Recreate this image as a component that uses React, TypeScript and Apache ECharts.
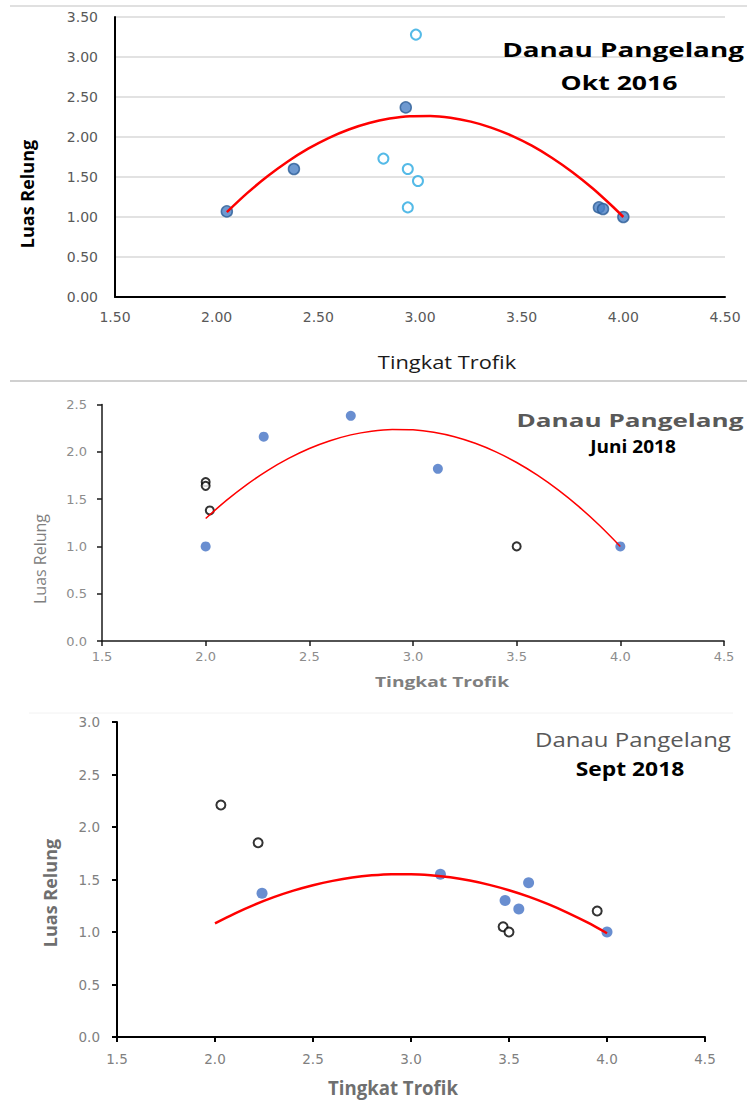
import React, { useEffect, useRef } from "react";
import * as echarts from "echarts";

// ---- Okt 2016 ----
const okt2016Filled = [[2.05, 1.07], [2.38, 1.6], [2.93, 2.37], [3.88, 1.12], [3.9, 1.1], [4.0, 1.0]];
const okt2016Open = [[2.98, 3.28], [2.82, 1.73], [2.94, 1.6], [2.99, 1.45], [2.94, 1.12]];
const okt2016Trend = [
  [2.05, 1.061], [2.15, 1.298], [2.25, 1.509], [2.35, 1.694], [2.45, 1.854], [2.55, 1.987],
  [2.65, 2.094], [2.75, 2.175], [2.85, 2.23], [2.95, 2.26], [3.05, 2.263], [3.15, 2.241],
  [3.25, 2.192], [3.35, 2.118], [3.45, 2.017], [3.55, 1.891], [3.65, 1.738], [3.75, 1.56],
  [3.85, 1.356], [3.95, 1.125], [4.0, 1.0],
];

// ---- Juni 2018 ----
const juni2018Filled = [[2.0, 1.0], [2.28, 2.16], [2.7, 2.38], [3.12, 1.82], [4.0, 1.0]];
const juni2018Open = [[2.0, 1.68], [2.0, 1.64], [2.02, 1.38], [3.5, 1.0]];
const juni2018Trend = [
  [2.0, 1.295], [2.1, 1.486], [2.2, 1.656], [2.3, 1.804], [2.4, 1.93], [2.5, 2.035],
  [2.6, 2.117], [2.7, 2.179], [2.8, 2.218], [2.9, 2.236], [3.0, 2.232], [3.1, 2.206],
  [3.2, 2.159], [3.3, 2.09], [3.4, 1.999], [3.5, 1.887], [3.6, 1.753], [3.7, 1.597],
  [3.8, 1.42], [3.9, 1.221], [4.0, 1.0],
];

// ---- Sept 2018 ----
const sept2018Filled = [[2.24, 1.37], [3.15, 1.55], [3.48, 1.3], [3.55, 1.22], [3.6, 1.47], [4.0, 1.0]];
const sept2018Open = [[2.03, 2.21], [2.22, 1.85], [3.47, 1.05], [3.5, 1.0], [3.95, 1.2]];
const sept2018Trend = [
  [2.0, 1.083], [2.1, 1.176], [2.2, 1.259], [2.3, 1.332], [2.4, 1.394], [2.5, 1.446],
  [2.6, 1.487], [2.7, 1.519], [2.8, 1.54], [2.9, 1.551], [3.0, 1.551], [3.1, 1.541],
  [3.2, 1.521], [3.3, 1.49], [3.4, 1.449], [3.5, 1.398], [3.6, 1.337], [3.7, 1.265],
  [3.8, 1.183], [3.9, 1.091], [4.0, 0.988],
];

const titles = ["Danau Pangelang", "Danau Pangelang", "Danau Pangelang"];
const subtitles = ["Okt 2016", "Juni 2018", "Sept 2018"];
const xName = "Tingkat Trofik";
const yName = "Luas Relung";

const X_MIN = 1.5;
const X_MAX = 4.5;
const X_STEP = 0.5;
const yMaxes = [3.5, 2.5, 3.0];

const LABEL_FONT = "DejaVu Sans";
const TITLE_FONT = "Open Sans";

function buildOption() {
  const grids = [
    { left: 115, top: 17, width: 610, height: 280 },
    { left: 102, top: 404.5, width: 622, height: 236.5 },
    { left: 117, top: 722, width: 588, height: 315 },
  ];

  const xAxes = [
    {
      gridIndex: 0, type: "value", min: X_MIN, max: X_MAX, interval: X_STEP,
      axisLine: { show: true, onZero: false, lineStyle: { color: "#000", width: 2 } },
      axisTick: { show: false },
      splitLine: { show: false },
      axisLabel: { margin: 13, color: "#595959", fontSize: 14, fontFamily: LABEL_FONT, formatter: (v: number) => v.toFixed(2) },
    },
    {
      gridIndex: 1, type: "value", min: X_MIN, max: X_MAX, interval: X_STEP,
      axisLine: { show: true, onZero: false, lineStyle: { color: "#1a1a1a", width: 1.5 } },
      axisTick: { show: true, length: 5, lineStyle: { color: "#1a1a1a", width: 1.5 } },
      splitLine: { show: false },
      axisLabel: { margin: 9, color: "#8c8c8c", fontSize: 13, fontFamily: LABEL_FONT, formatter: (v: number) => v.toFixed(1) },
    },
    {
      gridIndex: 2, type: "value", min: X_MIN, max: X_MAX, interval: X_STEP,
      axisLine: { show: true, onZero: false, lineStyle: { color: "#000", width: 2 } },
      axisTick: { show: true, length: 5, lineStyle: { color: "#000", width: 2 } },
      splitLine: { show: false },
      axisLabel: { margin: 15, color: "#808080", fontSize: 13.5, fontFamily: LABEL_FONT, formatter: (v: number) => v.toFixed(1) },
    },
  ];

  const yAxes = [
    {
      gridIndex: 0, type: "value", min: 0, max: yMaxes[0], interval: 0.5,
      axisLine: { show: true, lineStyle: { color: "#000", width: 2 } },
      axisTick: { show: false },
      splitLine: { show: true, lineStyle: { color: "#d9d9d9", width: 1.5 } },
      axisLabel: { margin: 17, color: "#595959", fontSize: 14, fontFamily: LABEL_FONT, formatter: (v: number) => v.toFixed(2) },
    },
    {
      gridIndex: 1, type: "value", min: 0, max: yMaxes[1], interval: 0.5,
      axisLine: { show: true, lineStyle: { color: "#1a1a1a", width: 1.5 } },
      axisTick: { show: true, length: 5, lineStyle: { color: "#1a1a1a", width: 1.5 } },
      splitLine: { show: false },
      axisLabel: { margin: 15, color: "#8c8c8c", fontSize: 13, fontFamily: LABEL_FONT, formatter: (v: number) => v.toFixed(1) },
    },
    {
      gridIndex: 2, type: "value", min: 0, max: yMaxes[2], interval: 0.5,
      axisLine: { show: true, lineStyle: { color: "#000", width: 2 } },
      axisTick: { show: true, length: 5, lineStyle: { color: "#000", width: 2 } },
      splitLine: { show: false },
      axisLabel: { margin: 17, color: "#808080", fontSize: 13.5, fontFamily: LABEL_FONT, formatter: (v: number) => v.toFixed(1) },
    },
  ];

  const scatter = (idx: number, data: number[][], size: number, itemStyle: any, z = 3) => ({
    type: "scatter", xAxisIndex: idx, yAxisIndex: idx, data, symbol: "circle", symbolSize: size,
    itemStyle, z, silent: true,
  });
  const trend = (idx: number, data: number[][], width: number) => ({
    type: "line", xAxisIndex: idx, yAxisIndex: idx, data, smooth: 0.3, showSymbol: false, symbol: "none",
    lineStyle: { color: "#ff0000", width }, z: 5, silent: true,
  });

  const series = [
    scatter(0, okt2016Open, 10, { color: "#ffffff", borderColor: "#29a9e1", borderWidth: 2 }),
    scatter(0, okt2016Filled, 11, { color: "#4a80c4", borderColor: "#2c5c96", borderWidth: 1.5 }),
    trend(0, okt2016Trend, 2.5),
    scatter(1, juni2018Filled, 10, { color: "#4472c4" }),
    scatter(1, juni2018Open, 8, { color: "#ffffff", borderColor: "#000000", borderWidth: 2 }),
    trend(1, juni2018Trend, 1.5),
    scatter(2, sept2018Filled, 11, { color: "#4472c4" }),
    scatter(2, sept2018Open, 9, { color: "#ffffff", borderColor: "#000000", borderWidth: 2 }),
    trend(2, sept2018Trend, 2.5),
  ];

  const txt = (text: string, x: number, y: number, o: any) => ({
    type: "text", x, y, scaleX: o.scaleX ?? 1, rotation: o.rotation ?? 0, z: 10,
    style: {
      text, fill: o.color ?? "#000", fontSize: o.size, fontWeight: o.weight ?? "normal",
      fontFamily: TITLE_FONT, align: "center", verticalAlign: "middle",
    },
  });

  const graphic = [
    { type: "line", shape: { x1: 10, y1: 6, x2: 747, y2: 6 }, style: { stroke: "#e0e0e0", lineWidth: 2 } },
    { type: "line", shape: { x1: 10, y1: 381, x2: 747, y2: 381 }, style: { stroke: "#d0d0d0", lineWidth: 2 } },
    { type: "line", shape: { x1: 29, y1: 713, x2: 733, y2: 713 }, style: { stroke: "#f2f2f2", lineWidth: 1 } },
    // chart 1
    txt(titles[0], 623, 49, { size: 20, weight: "bold", scaleX: 1.39 }),
    txt(subtitles[0], 619, 83, { size: 19, weight: "bold", scaleX: 1.4 }),
    txt(xName, 447, 362, { size: 19, color: "#1a1a1a", scaleX: 1.15 }),
    txt(yName, 27, 194, { size: 18, weight: "bold", rotation: Math.PI / 2 }),
    // chart 2
    txt(titles[1], 630, 420, { size: 18.5, weight: "bold", color: "#595959", scaleX: 1.41 }),
    txt(subtitles[1], 633, 446, { size: 17, weight: "bold", scaleX: 1.12 }),
    txt(xName, 442, 681, { size: 15, weight: "bold", color: "#7f7f7f", scaleX: 1.28 }),
    txt(yName, 40, 559, { size: 16, color: "#7f7f7f", rotation: Math.PI / 2 }),
    // chart 3
    txt(titles[2], 633, 739, { size: 20, color: "#595959", scaleX: 1.2 }),
    txt(subtitles[2], 630, 768, { size: 19.5, weight: "bold", scaleX: 1.17 }),
    txt(xName, 393, 1088, { size: 19, weight: "bold", color: "#6f6f6f", scaleX: 0.98 }),
    txt(yName, 50, 893, { size: 18, weight: "bold", color: "#6f6f6f", rotation: Math.PI / 2 }),
  ];

  return {
    animation: false,
    backgroundColor: "#ffffff",
    grid: grids,
    xAxis: xAxes,
    yAxis: yAxes,
    series,
    graphic,
  };
}

export default function App() {
  const ref = useRef<HTMLDivElement>(null);
  useEffect(() => {
    if (!ref.current) return;
    const chart = echarts.init(ref.current, null, { renderer: "svg" });
    chart.setOption(buildOption() as any);
    return () => chart.dispose();
  }, []);
  return (
    <div
      ref={ref}
      style={{ position: "absolute", left: 0, top: 0, width: 747, height: 1101, background: "#ffffff" }}
    />
  );
}
